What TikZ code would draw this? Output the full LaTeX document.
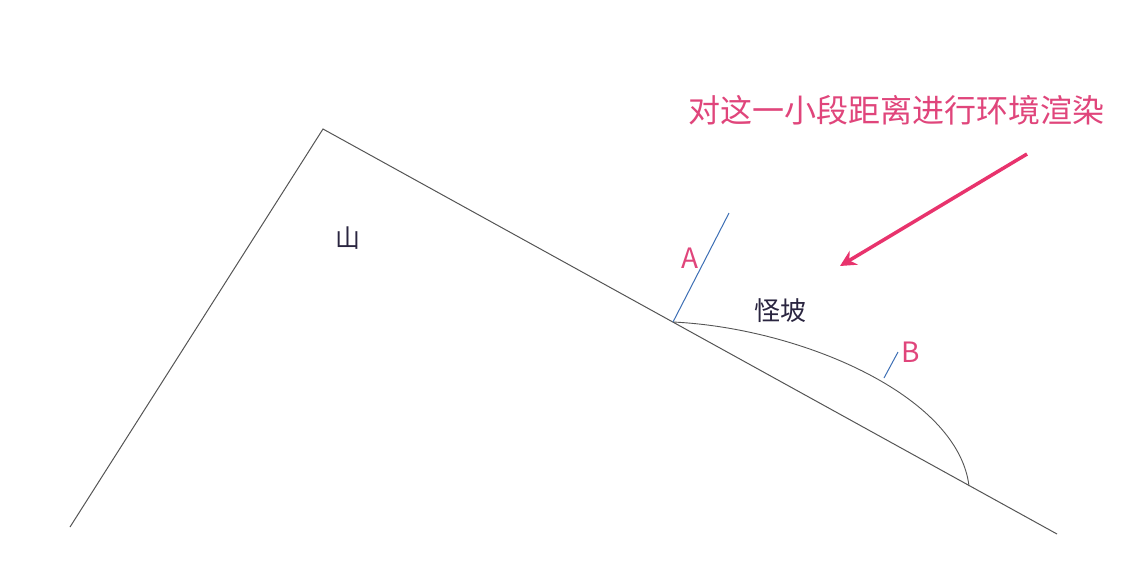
\documentclass[tikz,border=0pt]{standalone}
\usepackage{fontspec}
\setmainfont{Noto Sans CJK SC}
\usetikzlibrary{arrows.meta}
\definecolor{pinktxt}{HTML}{E0457B}
\definecolor{pinkarr}{HTML}{E8336D}
\definecolor{bluel}{HTML}{3D6FB5}
\definecolor{grayl}{HTML}{555555}
\definecolor{darktxt}{HTML}{2A2540}
\tikzset{
  slope/.style={draw=grayl, line width=1pt},
  tick/.style={draw=bluel, line width=1pt},
  pinklabel/.style={text=pinktxt, inner sep=0pt},
  darklabel/.style={text=darktxt, inner sep=0pt},
  callout/.style={draw=pinkarr, line width=3.5pt, -{Stealth[length=16pt,width=16pt]}}
}
\begin{document}
\begin{tikzpicture}[x=1pt,y=-1pt]
\useasboundingbox[fill=white] (0,0) rectangle (1142,582);
\coordinate (L) at (70,527);
\coordinate (P) at (323,129);
\coordinate (R) at (1057,534);
\coordinate (A0) at (673,322);
\coordinate (A1) at (729,213);
\coordinate (E) at (969,486);
\coordinate (B0) at (884,378);
\coordinate (B1) at (898,352);
\coordinate (S) at (1027,154);
\coordinate (T) at (840,266);
\draw[slope] (L) -- (P) -- (R);
\draw[slope, line width=0.9pt] (A0) .. controls (800,328) and (958,395) .. (E);
\draw[tick] (A0) -- (A1);
\draw[tick] (B0) -- (B1);
\draw[callout] (S) -- (T);
\node[pinklabel, font=\fontsize{28}{30}\selectfont] (la) at (690,258) {A};
\node[pinklabel, font=\fontsize{28}{30}\selectfont] (lb) at (911,352) {B};
\node[pinklabel, font=\fontsize{32}{35}\selectfont] (title) at (896,110) {对这一小段距离进行环境渲染};
\node[darklabel, font=\fontsize{25}{28}\selectfont] (shan) at (348,238) {山};
\node[darklabel, font=\fontsize{26}{29}\selectfont] (gp) at (780,311) {怪坡};
\end{tikzpicture}
\end{document}
